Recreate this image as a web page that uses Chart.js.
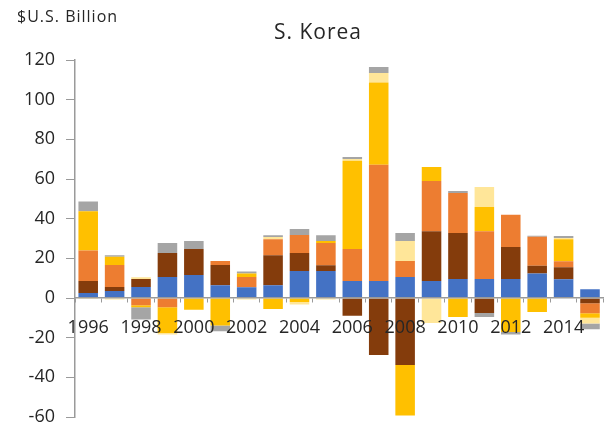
<!DOCTYPE html>
<html>
<head>
<meta charset="utf-8">
<script src="https://cdn.jsdelivr.net/npm/chart.js@4.4.1/dist/chart.umd.min.js"></script>
<style>
  html, body { margin: 0; padding: 0; background: #fff; }
  #wrap { width: 605px; height: 430px; position: relative; }
</style>
</head>
<body>
<div id="wrap"><canvas id="koreaChart"></canvas></div>
<script>
// S. Korea, $U.S. Billion, 1996-2015
const years = ['1996', '1997', '1998', '1999', '2000', '2001', '2002', '2003', '2004', '2005',
               '2006', '2007', '2008', '2009', '2010', '2011', '2012', '2013', '2014', '2015'];
const tickLabels = ['1996', '', '1998', '', '2000', '', '2002', '', '2004', '',
                    '2006', '', '2008', '', '2010', '', '2012', '', '2014', ''];
const yTicks = [-60, -40, -20, 0, 20, 40, 60, 80, 100, 120];

const blueVals   = [2.5, 3.5, 5.5, 10.6, 11.6, 6.4, 5.4, 6.4, 13.6, 13.6, 8.6, 8.6, 10.6, 8.6, 9.6, 9.6, 9.6, 12.4, 9.4, 4.4];
const brownVals  = [6.1, 2.0, 4.1, 12.1, 13.1, 10.2, 0, 15.1, 9.1, 2.9, -8.9, -28.7, -33.8, 25.0, 23.2, -7.6, 16.1, 3.9, 6.1, -2.7];
const orangeVals = [15.3, 11.1, -3.7, -4.7, 0, 2.1, 5.2, 8.1, 9.1, 11.2, 16.1, 58.6, 8.1, 25.4, 20.1, 24.0, 16.3, 14.6, 3.0, -5.0];
const goldVals   = [19.8, 4.2, -1.0, -12.9, -5.9, -13.9, 1.7, -5.5, -2.0, 1.0, 44.5, 41.5, -25.4, 7.1, -9.6, 12.3, -17.1, -7.1, 11.1, -2.2];
const paleVals   = [-0.5, -0.7, 0.8, -0.8, 0, 0, -0.7, 1.2, -1.3, -0.8, 0.9, 4.7, 10.0, -12.6, 0, 10.1, 0, 0, 0.7, -2.9];
const grayVals   = [5.0, 0.7, -6.2, 5.0, 4.0, -2.9, 1.1, 0.8, 3.0, 2.9, 1.0, 3.1, 4.1, 0, 1.0, -2.0, -1.3, 0.5, 1.0, -2.9];

const textColor = '#262626';
const axisColor = '#9a9a9a';

// draws the unit label and the chart title
const headerText = {
    id: 'headerText',
    afterDraw(chart) {
        const ctx = chart.ctx;
        ctx.save();
        ctx.fillStyle = textColor;
        ctx.textBaseline = 'middle';
        ctx.letterSpacing = '1px';
        ctx.font = '16px "Open Sans"';
        ctx.textAlign = 'left';
        ctx.fillText('$U.S. Billion', 17, 17);
        ctx.font = '21px "Open Sans"';
        ctx.textAlign = 'center';
        ctx.fillText('S. Korea', 318, 33);
        ctx.restore();
    }
};

const ctx = document.getElementById('koreaChart').getContext('2d');
new Chart(ctx, {
    type: 'bar',
    data: {
        labels: years,
        datasets: [
            { label: 'Series 1', data: blueVals,   backgroundColor: '#4472C4' },
            { label: 'Series 2', data: brownVals,  backgroundColor: '#843C0C' },
            { label: 'Series 3', data: orangeVals, backgroundColor: '#ED7D31' },
            { label: 'Series 4', data: goldVals,   backgroundColor: '#FFC000' },
            { label: 'Series 5', data: paleVals,   backgroundColor: '#FFE699' },
            { label: 'Series 6', data: grayVals,   backgroundColor: '#A5A5A5' }
        ]
    },
    options: {
        responsive: true,
        maintainAspectRatio: false,
        animation: false,
        categoryPercentage: 1,
        barPercentage: 0.74,
        layout: { padding: { top: 60, bottom: 13, left: 0, right: 0 } },
        plugins: {
            legend: { display: false },
            tooltip: { enabled: false }
        },
        scales: {
            x: {
                stacked: true,
                position: { y: 0 },
                afterFit: axis => { axis.paddingTop = 0; axis.paddingBottom = 0; },
                // axis line, ticks and labels sit on top of the bars
                grid: { drawOnChartArea: false, drawTicks: true, tickLength: 4, color: axisColor, offset: true, z: 1 },
                border: { color: axisColor, width: 1.5, z: 1 },
                ticks: {
                    z: 1,
                    autoSkip: false,
                    maxRotation: 0,
                    padding: 15,
                    color: textColor,
                    font: { family: '"Open Sans"', size: 18 },
                    callback: (value, index) => tickLabels[index]
                }
            },
            y: {
                stacked: true,
                min: -60,
                max: 120,
                afterBuildTicks: axis => { axis.ticks = yTicks.map(v => ({ value: v })); },
                afterFit: axis => { axis.width = 75; axis.paddingTop = 0; axis.paddingBottom = 0; },
                grid: { drawOnChartArea: false, drawTicks: true, tickLength: 9, color: axisColor },
                border: { color: axisColor, width: 1.5 },
                ticks: {
                    padding: 11,
                    color: textColor,
                    font: { family: '"Open Sans"', size: 18 }
                }
            }
        }
    },
    plugins: [headerText]
});
</script>
</body>
</html>
